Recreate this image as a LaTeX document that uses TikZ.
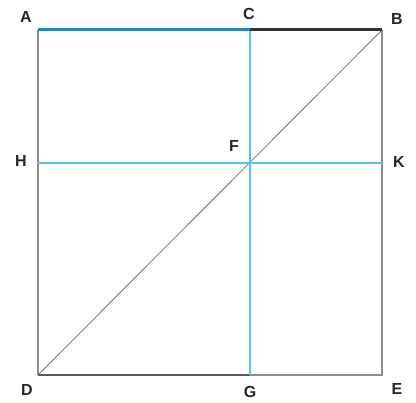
\documentclass[tikz,border=0pt]{standalone}
\usepackage{fontspec}
\setmainfont{Liberation Sans}
\begin{document}
\begin{tikzpicture}[x=1pt,y=-1pt,
  lbl/.style={font=\bfseries\fontsize{16}{18}\selectfont, text=black!85, inner sep=0pt},
  topblue/.style={draw={rgb,255:red,25;green,140;blue,205}, line width=3pt},
  ltblue/.style={draw={rgb,255:red,95;green,190;blue,240}, line width=2.4pt},
  blk/.style={draw=black!80, line width=3pt},
  gry/.style={draw=black!45, line width=2.4pt},
  dgry/.style={draw=black!65, line width=2.4pt},
  diag/.style={draw=black!55, line width=0.8pt}]
\useasboundingbox (0,0) rectangle (416,403);
\coordinate (A) at (38,30);
\coordinate (C) at (250,30);
\coordinate (B) at (382,30);
\coordinate (H) at (38,163);
\coordinate (F) at (250,163);
\coordinate (K) at (382,163);
\coordinate (D) at (38,375);
\coordinate (G) at (250,375);
\coordinate (E) at (382,375);
\draw[diag] (D) -- (B);
\draw[gry] (A) -- (D);
\draw[gry] (B) -- (E) -- (G);
\draw[dgry] (D) -- (G);
\draw[ltblue] (C) -- (G);
\draw[ltblue] (H) -- (K);
\draw[blk] (C) -- (B);
\draw[topblue] (A) -- (C);
\node[lbl] (lA) at (26,17) {A};
\node[lbl] (lC) at (249,14) {C};
\node[lbl] (lB) at (397,19) {B};
\node[lbl] (lH) at (21,161) {H};
\node[lbl] (lF) at (234,146) {F};
\node[lbl] (lK) at (399,162) {K};
\node[lbl] (lD) at (27,390) {D};
\node[lbl] (lG) at (250,392) {G};
\node[lbl] (lE) at (397,389) {E};
\end{tikzpicture}
\end{document}
